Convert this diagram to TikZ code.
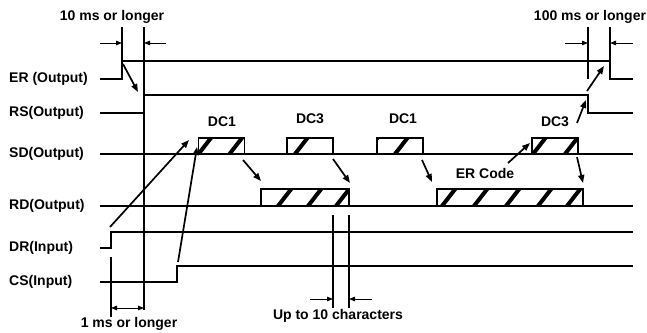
\documentclass[tikz,border=0pt]{standalone}
\usepackage{fontspec}
\setmainfont{Liberation Sans}
\usetikzlibrary{arrows.meta}
\tikzset{
  sig/.style={line width=1.2pt},
  ext/.style={line width=1.2pt},
  cause/.style={line width=1.7pt, -{Triangle[length=8pt,width=6pt]}},
  dim/.style={line width=1pt, -{Triangle[length=6pt,width=4.5pt]}},
  lbl/.style={font=\fontsize{14}{16}\selectfont\bfseries, inner sep=0pt},
  siglabel/.style={lbl, anchor=west},
  frame/.style={draw, line width=1.3pt, inner sep=0pt, fill=white},
  sdbox/.style={frame, minimum width=46pt, minimum height=16pt},
  rdbox/.style={frame, minimum height=17pt},
  stripes/.style={path picture={
      \foreach \s in {#1}{
        \draw[line width=4pt]
          ([xshift=\s pt]path picture bounding box.south west) -- ++(14,-18);
      }}},
}
\begin{document}
\begin{tikzpicture}[x=1pt,y=-1pt]
\useasboundingbox (0,0) rectangle (647,332);

% signal names
\node[siglabel] (lER) at (9,79)  {ER (Output)};
\node[siglabel] (lRS) at (9,113) {RS(Output)};
\node[siglabel] (lSD) at (9,154) {SD(Output)};
\node[siglabel] (lRD) at (9,206) {RD(Output)};
\node[siglabel] (lDR) at (9,248) {DR(Input)};
\node[siglabel] (lCS) at (9,282) {CS(Input)};

% waveforms
\draw[sig] (100,79) -- (122,79) -- (122,61) -- (610,61) -- (610,79) -- (633,79);
\draw[sig] (100,113) -- (144,113) -- (144,95) -- (588,95) -- (588,113) -- (633,113);
\draw[sig] (100,154) -- (633,154);
\draw[sig] (100,206) -- (633,206);
\draw[sig] (100,248) -- (111,248) -- (111,232) -- (633,232);
\draw[sig] (100,282) -- (177,282) -- (177,266) -- (633,266);

% extension lines
\draw[ext] (122,27) -- (122,61);
\draw[ext] (144,27) -- (144,310);
\draw[ext] (588,27) -- (588,79);
\draw[ext] (610,27) -- (610,61);
\draw[ext] (111,257) -- (111,317);
\draw[ext] (333,215) -- (333,308);
\draw[ext] (349,215) -- (349,308);

% data frames on SD
\node[sdbox, stripes={0,31}]  (dc1a) at (221.5,146) {};
\node[sdbox, stripes={8}]     (dc3a) at (310,146) {};
\node[sdbox, stripes={-12,18}] (dc1b) at (400,146) {};
\node[sdbox, stripes={1,33}]  (dc3b) at (555,146) {};
% data frames on RD
\node[rdbox, minimum width=88pt, stripes={17,47,75}] (rd1) at (305,197.5) {};
\node[rdbox, minimum width=146pt, stripes={5,37,69,101,130}] (rd2) at (510,197.5) {};

% frame labels
\node[lbl] (tdc1a) at (222,122) {DC1};
\node[lbl] (tdc3a) at (310,119) {DC3};
\node[lbl] (tdc1b) at (403,119) {DC1};
\node[lbl] (tdc3b) at (555,122) {DC3};
\node[lbl] (terc)  at (485,173) {ER Code};

% timing dimensions
\node[lbl] (t10) at (112,17) {10 ms or longer};
\node[lbl] (t100) at (590,17) {100 ms or longer};
\node[lbl] (t1) at (129,324) {1 ms or longer};
\node[lbl] (tup) at (338,316) {Up to 10 characters};

\draw[dim] (100,43) -- (122,43);
\draw[dim] (166,43) -- (144,43);
\draw[dim] (565,43) -- (588,43);
\draw[dim] (633,43) -- (610,43);
\draw[dim] (310,299) -- (333,299);
\draw[dim] (372,299) -- (349,299);
\draw[dim, {Triangle[length=6pt,width=4.5pt]}-{Triangle[length=6pt,width=4.5pt]}] (111,308) -- (144,308);

% cause-and-effect arrows
\draw[cause] (123,64) -- (138,92);
\draw[cause] (110,227) -- (189,140);
\draw[cause] (178,262) -- (197,147);
\draw[cause] (243,160) -- (261,181);
\draw[cause] (333,159) -- (350,183);
\draw[cause] (422,160) -- (432,182);
\draw[cause] (577,157) -- (583,183);
\draw[cause] (508,163) -- (530,143);
\draw[cause] (577,123) -- (586,100);
\draw[cause] (587,91) -- (604,66);
\end{tikzpicture}
\end{document}
